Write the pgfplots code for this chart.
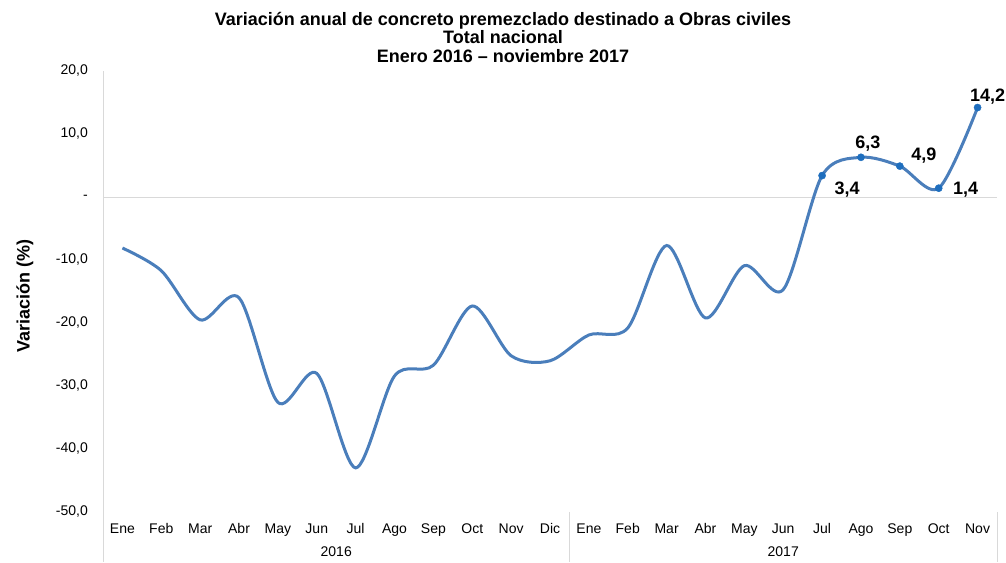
\documentclass[border=0pt]{standalone}
\usepackage{fontspec}
\setmainfont{Liberation Sans}
\usepackage{pgfplots}
\pgfplotsset{compat=1.18}
\definecolor{lineblue}{RGB}{74,126,187}
\definecolor{markblue}{RGB}{30,110,190}
\definecolor{axisgray}{RGB}{217,217,217}
\pgfplotstableread{
x y
0 -8.1
1 -11.7
2 -19.5
3 -16.0
4 -32.6
5 -28.0
6 -43.0
7 -28.4
8 -26.7
9 -17.3
10 -25.2
11 -26.0
12 -21.9
13 -20.8
14 -7.7
15 -19.2
16 -10.9
17 -14.7
18 3.4
19 6.3
20 4.9
21 1.4
22 14.2
}\datatable
\pgfplotstableread{
x y
18 3.4
19 6.3
20 4.9
21 1.4
22 14.2
}\marktable
\begin{document}
\begin{tikzpicture}[x=1pt,y=1pt]
\path[use as bounding box] (0,0) rectangle (1006,562);
\begin{axis}[
  at={(103pt,50pt)}, anchor=south west,
  scale only axis, width=894pt, height=441pt,
  xmin=-0.5, xmax=22.5, ymin=-50, ymax=20,
  clip=false,
  axis y line*=left, axis x line*=bottom,
  x axis line style={draw=none},
  y axis line style={axisgray, line width=1pt, -},
  major tick length=0pt,
  xtick={0,...,22},
  xticklabels={Ene,Feb,Mar,Abr,May,Jun,Jul,Ago,Sep,Oct,Nov,Dic,Ene,Feb,Mar,Abr,May,Jun,Jul,Ago,Sep,Oct,Nov},
  xticklabel style={font=\fontsize{14}{14}\selectfont, anchor=center, text height=10pt, text depth=3pt, yshift=-18pt, inner sep=0pt},
  ytick={-50,-40,-30,-20,-10,0,10,20},
  yticklabels={{-50,0},{-40,0},{-30,0},{-20,0},{-10,0},{-},{10,0},{20,0}},
  yticklabel style={font=\fontsize{14}{14}\selectfont, anchor=east, inner sep=0pt, xshift=-15pt},
]
\draw[axisgray, line width=1pt] (axis cs:-0.5,0) -- (axis cs:22.5,0);
\draw[axisgray, line width=1pt] (axis cs:-0.5,-50) -- ([yshift=-50pt]axis cs:-0.5,-50);
\draw[axisgray, line width=1pt] (axis cs:11.5,-50) -- ([yshift=-50pt]axis cs:11.5,-50);
\draw[axisgray, line width=1pt] (axis cs:22.5,-50) -- ([yshift=-50pt]axis cs:22.5,-50);
\node[font=\fontsize{14}{14}\selectfont, anchor=center, text height=10pt, text depth=3pt, inner sep=0pt] at (axis cs:5.5,-50) [yshift=-41pt] {2016};
\node[font=\fontsize{14}{14}\selectfont, anchor=center, text height=10pt, text depth=3pt, inner sep=0pt] at (axis cs:17,-50) [yshift=-41pt] {2017};
\addplot[lineblue, line width=3pt, smooth, no marks] table[x=x,y=y] {\datatable};
\addplot[only marks, mark=*, mark size=3.6pt, markblue, mark options={fill=markblue}] table[x=x,y=y] {\marktable};
\tikzset{dl/.style={font=\bfseries\fontsize{18}{18}\selectfont, anchor=center, inner sep=0pt, text height=13pt, text depth=0pt}}
\node[dl] at (axis cs:18,3.4) [xshift=25pt, yshift=-12pt] {3,4};
\node[dl] at (axis cs:19,6.3) [xshift=7pt, yshift=15pt] {6,3};
\node[dl] at (axis cs:20,4.9) [xshift=24pt, yshift=12pt] {4,9};
\node[dl] at (axis cs:21,1.4) [xshift=27pt, yshift=0pt] {1,4};
\node[dl] at (axis cs:22,14.2) [xshift=10pt, yshift=13pt] {14,2};
\end{axis}
\node[font=\bfseries\fontsize{18}{18}\selectfont, anchor=center, text height=13pt, text depth=0pt, inner sep=0pt] at (503,543) {Variación anual de concreto premezclado destinado a Obras civiles};
\node[font=\bfseries\fontsize{18}{18}\selectfont, anchor=center, text height=13pt, text depth=0pt, inner sep=0pt] at (503,524.5) {Total nacional};
\node[font=\bfseries\fontsize{18}{18}\selectfont, anchor=center, text height=13pt, text depth=0pt, inner sep=0pt] at (503,506) {Enero 2016 – noviembre 2017};
\node[font=\bfseries\fontsize{18}{18}\selectfont, rotate=90, anchor=center, text height=13pt, text depth=0pt, inner sep=0pt] at (23,266) {Variación (\%)};
\end{tikzpicture}
\end{document}
